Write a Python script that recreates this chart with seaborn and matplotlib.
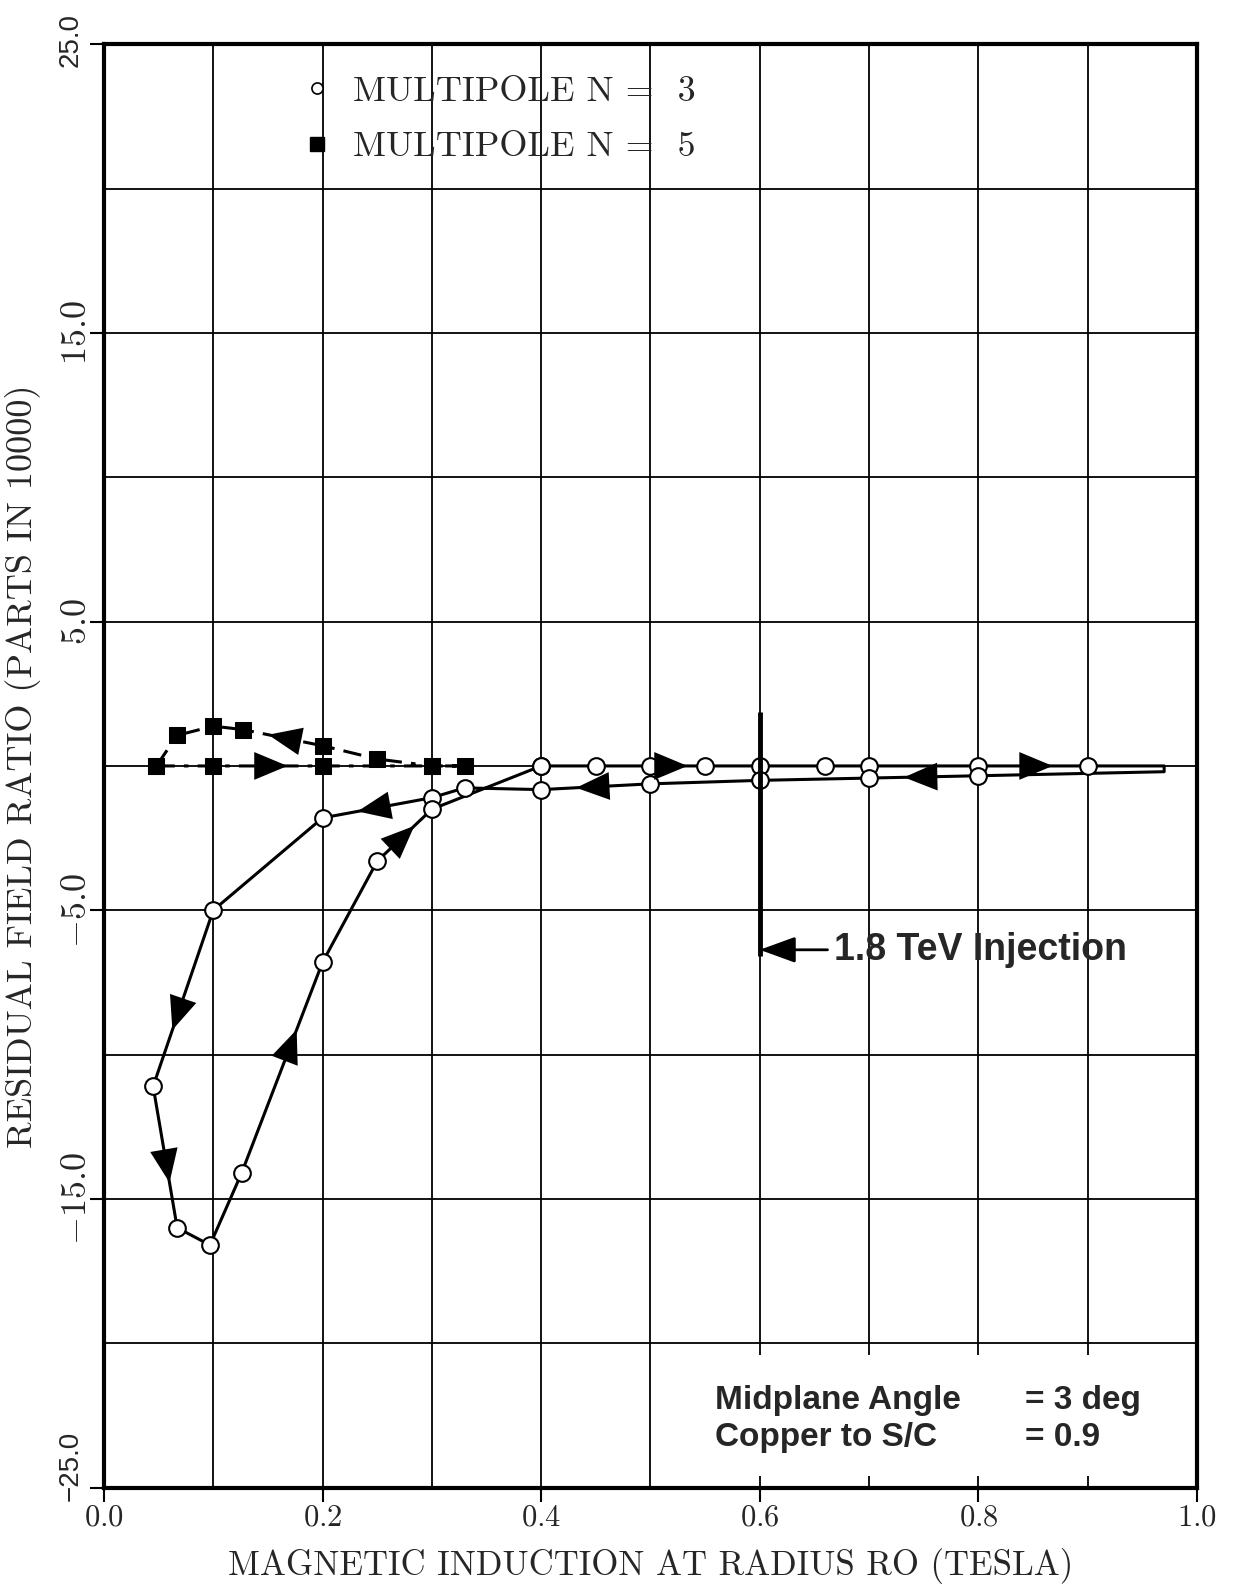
import numpy as np
import matplotlib
matplotlib.use("Agg")
import matplotlib.pyplot as plt
import matplotlib.transforms as mtransforms
import seaborn as sns
from matplotlib.lines import Line2D
from matplotlib.patches import Rectangle

# multipole N = 3 : one cycle, up along ~0 then back down and round the low-field loop
n3_field = [0.40, 0.45, 0.50, 0.55, 0.60, 0.66, 0.70, 0.80, 0.90, 0.97,
            0.97, 0.80, 0.70, 0.60, 0.50, 0.40, 0.33, 0.30, 0.20, 0.10,
            0.045, 0.067, 0.097, 0.126, 0.20, 0.25, 0.30, 0.40]
n3_ratio = [0.0, 0.0, 0.0, 0.0, 0.0, 0.0, 0.0, 0.0, 0.0, 0.0,
            -0.20, -0.34, -0.42, -0.50, -0.62, -0.82, -0.76, -1.10, -1.80, -5.00,
            -11.1, -16.0, -16.6, -14.1, -6.8, -3.3, -1.5, 0.0]
n3_nomark = [9, 10]
n3_arrow_seg = [2, 7, 11, 14, 17, 19, 20, 23, 25]

# multipole N = 5
n5_field = [0.048, 0.10, 0.20, 0.30, 0.33, 0.30, 0.25, 0.20, 0.127, 0.10, 0.067, 0.048]
n5_ratio = [0.0, 0.0, 0.0, 0.0, 0.0, 0.0, 0.24, 0.70, 1.26, 1.38, 1.06, 0.0]
n5_arrow_seg = [1, 7]

injection_field = 0.6
injection_span = (1.87, -6.6)
injection_y = -6.37

xticks = [0.0, 0.2, 0.4, 0.6, 0.8, 1.0]
yticks = [25, 15, 5, -5, -15, -25]
ytick_labels = ["25.0", "15.0", "5.0", "-5.0", "-15.0", "-25.0"]
sans_ticks = {"25.0": "25.0", "-25.0": "\u221225.0"}

sns.set_style("ticks")
plt.rcParams["mathtext.fontset"] = "cm"
plt.rcParams["axes.unicode_minus"] = False

fig = plt.figure(figsize=(12.36, 15.84), dpi=100)
ax = fig.add_axes([0.0841, 0.0609, 0.8843, 0.9111])

ax.set_xlim(0, 1.0)
ax.set_ylim(-25, 25)

ax.set_xticks(xticks)
ax.set_xticks(np.arange(0.1, 1.0, 0.2), minor=True)
ax.set_yticks(yticks)
ax.set_yticks([20, 10, 0, -10, -20], minor=True)
ax.grid(True, which="both", color="black", lw=1.3, zorder=0)
ax.tick_params(which="major", direction="out", length=10, width=1.5, color="black")
ax.tick_params(which="minor", length=0)
for s in ax.spines.values():
    s.set_linewidth(3)
    s.set_color("black")

ax.set_xticklabels([f"${t:.1f}$" for t in xticks], fontsize=22)
ax.tick_params(axis="x", pad=1)
ylabs = [sans_ticks.get(t, f"${t}$") for t in ytick_labels]
ax.set_yticklabels(ylabs, rotation=90, va="center", fontsize=26)
ax.tick_params(axis="y", pad=-2)
for lab in ax.get_yticklabels():
    if lab.get_text() in sans_ticks.values():
        lab.set_fontfamily("Liberation Sans")
        lab.set_fontsize(20)
        dy = 22 if lab.get_text().startswith("\u2212") else 4
        lab.set_transform(lab.get_transform() + mtransforms.ScaledTranslation(
            -9 / 100, dy / 100, fig.dpi_scale_trans))

ax.set_xlabel("MAGNETIC INDUCTION AT RADIUS RO (TESLA)", fontfamily="cmr10",
              fontsize=25, labelpad=12)
ax.set_ylabel("RESIDUAL FIELD RATIO (PARTS IN 10000)", fontfamily="cmr10",
              fontsize=26, labelpad=12)

# blank panel behind the parameter text
ax.add_patch(Rectangle((0.52, -24.6), 0.47, 4.2, facecolor="white",
                       edgecolor="none", zorder=1))

n3_marks = [i for i in range(len(n3_field)) if i not in n3_nomark]
sns.lineplot(x=n3_field, y=n3_ratio, sort=False, estimator=None, ax=ax,
             color="black", lw=2.2, marker="o", markersize=12,
             markerfacecolor="white", markeredgecolor="black",
             markeredgewidth=1.5, markevery=n3_marks, zorder=3)
sns.lineplot(x=n5_field, y=n5_ratio, sort=False, estimator=None, ax=ax,
             color="black", lw=2.2, linestyle=(0, (6, 3, 1.5, 3)), marker="s",
             markersize=11, markerfacecolor="black", markeredgecolor="black",
             zorder=3)


def add_arrows(xs, ys, segs):
    for i in segs:
        x0, y0, x1, y1 = xs[i], ys[i], xs[i + 1], ys[i + 1]
        ax.annotate("", xy=(x0 + 0.68 * (x1 - x0), y0 + 0.68 * (y1 - y0)),
                    xytext=(x0 + 0.32 * (x1 - x0), y0 + 0.32 * (y1 - y0)),
                    arrowprops=dict(arrowstyle="-|>,head_length=1.2,head_width=0.5",
                                    color="black", lw=0, mutation_scale=20,
                                    shrinkA=0, shrinkB=0), zorder=4)


add_arrows(n3_field, n3_ratio, n3_arrow_seg)
add_arrows(n5_field, n5_ratio, n5_arrow_seg)

# injection marker
ax.vlines(injection_field, injection_span[1], injection_span[0], color="black",
          lw=3.5, zorder=3)
ax.annotate("", xy=(injection_field, injection_y), xytext=(injection_field + 0.062, injection_y),
            arrowprops=dict(arrowstyle="-|>,head_length=1.1,head_width=0.4",
                            color="black", lw=2, mutation_scale=20,
                            shrinkA=0, shrinkB=0), zorder=4)
ax.text(injection_field + 0.068, injection_y, "1.8 TeV Injection",
        fontfamily="Liberation Sans", fontweight="bold", fontsize=27,
        ha="left", va="center", zorder=5)

ax.text(0.559, -22.62, "Midplane Angle\nCopper to S/C", fontfamily="Liberation Sans",
        fontweight="bold", fontsize=24, ha="left", va="center", linespacing=1.25, zorder=5)
ax.text(0.843, -22.62, "= 3 deg\n= 0.9", fontfamily="Liberation Sans",
        fontweight="bold", fontsize=24, ha="left", va="center", linespacing=1.25, zorder=5)

handles = [Line2D([], [], ls="none", marker="o", markersize=8, markerfacecolor="white",
                  markeredgecolor="black", markeredgewidth=1.2),
           Line2D([], [], ls="none", marker="s", markersize=10, markerfacecolor="black",
                  markeredgecolor="black")]
ax.legend(handles, ["MULTIPOLE N =  3", "MULTIPOLE N =  5"], loc="upper left",
          bbox_to_anchor=(0.152, 1.001), frameon=False, handlelength=0.8,
          handletextpad=0.6, labelspacing=0.65, prop={"family": "cmr10", "size": 26})

fig.savefig("out.png", dpi=100)
